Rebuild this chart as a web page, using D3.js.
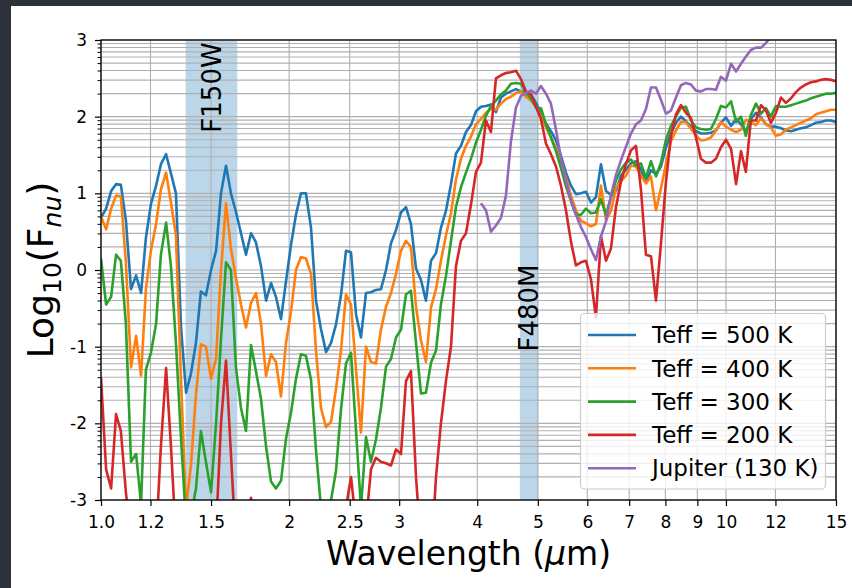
<!DOCTYPE html>
<html>
<head>
<meta charset="utf-8">
<script src="https://cdn.jsdelivr.net/npm/d3@7"></script>
<style>
  html, body { margin: 0; padding: 0; background: #2c313c; }
  svg { display: block; }
</style>
</head>
<body>
<div id="chart"></div>
<script>
// wavelength grid (micron), shared by all spectra
const wavelength = [
  1.000, 1.019, 1.038, 1.057, 1.076, 1.096, 1.117, 1.138, 1.159, 1.180,
  1.202, 1.225, 1.247, 1.271, 1.294, 1.318, 1.343, 1.368, 1.393, 1.419,
  1.445, 1.472, 1.500, 1.528, 1.556, 1.585, 1.614, 1.644, 1.675, 1.706,
  1.738, 1.770, 1.803, 1.837, 1.871, 1.905, 1.941, 1.977, 2.014, 2.051,
  2.089, 2.128, 2.168, 2.208, 2.249, 2.291, 2.334, 2.377, 2.421, 2.466,
  2.512, 2.559, 2.606, 2.655, 2.704, 2.754, 2.805, 2.858, 2.911, 2.965,
  3.020, 3.076, 3.133, 3.192, 3.251, 3.311, 3.373, 3.436, 3.499, 3.564,
  3.631, 3.698, 3.767, 3.837, 3.908, 3.981, 4.055, 4.130, 4.207, 4.285,
  4.365, 4.446, 4.529, 4.613, 4.699, 4.786, 4.875, 4.966, 5.058, 5.152,
  5.248, 5.346, 5.445, 5.546, 5.649, 5.754, 5.861, 5.970, 6.081, 6.194,
  6.310, 6.427, 6.546, 6.668, 6.792, 6.918, 7.047, 7.178, 7.311, 7.447,
  7.586, 7.727, 7.871, 8.017, 8.166, 8.318, 8.472, 8.630, 8.790, 8.954,
  9.120, 9.290, 9.462, 9.638, 9.817, 10.00, 10.19, 10.38, 10.57, 10.76,
  10.96, 11.17, 11.38, 11.59, 11.80, 12.02, 12.25, 12.47, 12.71, 12.94,
  13.18, 13.43, 13.68, 13.93, 14.19, 14.45, 14.72, 15.00
];

// log10(F_nu) for each model
const teff500 = [
  0.68, 0.80, 1.03, 1.12, 1.11, 0.65, -0.25, -0.07, -0.30, 0.42,
  0.86, 1.10, 1.38, 1.51, 1.26, 1.00, -0.75, -1.60, -1.35, -0.95,
  -0.28, -0.33, 0.00, 0.25, 1.00, 1.36, 1.00, 0.76, 0.48, 0.20,
  0.48, 0.36, 0.05, -0.40, -0.17, -0.35, -0.64, -0.15, 0.33, 0.72,
  1.00, 1.00, 0.55, -0.40, -0.77, -1.07, -0.95, -0.71, -0.33, 0.25,
  0.23, -0.58, -0.88, -0.30, -0.29, -0.26, -0.25, 0.00, 0.35, 0.52,
  0.75, 0.82, 0.60, 0.02, -0.13, -0.40, 0.12, 0.22, 0.55, 0.77,
  1.12, 1.52, 1.62, 1.80, 1.89, 2.07, 2.13, 2.14, 2.16, 2.06,
  2.25, 2.30, 2.33, 2.36, 2.33, 2.32, 2.29, 2.18, 2.04, 1.91,
  1.81, 1.69, 1.49, 1.27, 1.10, 0.99, 1.00, 1.02, 0.88, 0.95,
  1.38, 1.03, 0.98, 1.03, 1.23, 1.31, 1.39, 1.42, 1.31, 1.14,
  1.30, 1.25, 1.35, 1.60, 1.78, 1.92, 2.00, 1.94, 1.87, 1.81,
  1.78, 1.78, 1.79, 1.82, 1.92, 1.99, 1.88, 1.97, 1.90, 1.80,
  1.97, 2.05, 1.99, 1.90, 1.87, 1.87, 1.85, 1.82, 1.81, 1.83,
  1.85, 1.86, 1.89, 1.92, 1.93, 1.95, 1.95, 1.93
];
const teff400 = [
  0.70, 0.53, 0.80, 0.97, 0.96, 0.10, -1.27, -0.86, -1.38, -0.25,
  0.25, 0.60, 1.05, 1.27, 0.88, 0.45, -1.45, -3.10, -2.55, -1.62,
  -0.97, -1.00, -1.42, -1.15, 0.00, 0.87, 0.28, -0.10, -0.45, -0.75,
  -0.43, -0.30, -0.70, -1.38, -1.10, -1.20, -1.65, -0.95, -0.54, 0.00,
  0.17, 0.15, -0.05, -1.05, -1.80, -2.05, -1.98, -1.55, -1.05, -0.32,
  -0.45, -1.30, -2.12, -1.00, -1.20, -1.22, -0.78, -0.48, -0.30, -0.05,
  0.25, 0.38, 0.30, -0.48, -0.92, -1.20, -0.49, -0.25, 0.12, 0.45,
  0.74, 1.18, 1.45, 1.62, 1.74, 1.90, 1.97, 2.05, 2.10, 2.09,
  2.17, 2.23, 2.26, 2.31, 2.33, 2.26, 2.21, 2.13, 2.00, 1.86,
  1.73, 1.58, 1.41, 1.20, 0.97, 0.78, 0.64, 0.61, 0.57, 0.60,
  1.10, 0.65, 0.77, 1.07, 1.16, 1.23, 1.36, 1.35, 1.23, 1.13,
  1.22, 0.78, 1.07, 1.38, 1.68, 1.82, 1.93, 1.93, 1.84, 1.76,
  1.69, 1.70, 1.73, 1.82, 1.93, 1.87, 1.83, 1.80, 1.83, 1.96,
  1.93, 1.89, 1.98, 1.90, 1.86, 1.75, 1.77, 1.83, 1.86, 1.89,
  1.92, 1.95, 1.98, 2.03, 2.05, 2.07, 2.09, 2.09
];
const teff300 = [
  0.15, -0.45, -0.35, 0.20, 0.12, -0.70, -2.50, -2.40, -3.05, -1.30,
  -1.08, -0.70, 0.20, 0.62, 0.05, -0.95, -2.20, -3.30, -3.20, -2.85,
  -2.10, -2.50, -2.90, -2.00, -0.90, 0.10, 0.00, -1.27, -1.80, -2.10,
  -0.98, -1.32, -1.68, -2.30, -2.76, -2.85, -2.75, -2.20, -1.86, -1.42,
  -1.10, -1.12, -1.43, -2.35, -3.10, -3.20, -3.00, -2.62, -1.82, -1.22,
  -1.08, -2.10, -3.10, -2.18, -2.50, -2.21, -1.80, -1.26, -1.16, -0.88,
  -0.78, -0.32, -0.27, -0.95, -1.61, -1.60, -1.21, -1.05, -0.45, -0.08,
  0.38, 0.82, 1.08, 1.27, 1.45, 1.66, 1.83, 2.01, 2.14, 2.21,
  2.29, 2.34, 2.43, 2.44, 2.43, 2.31, 2.24, 2.12, 2.11, 1.90,
  1.73, 1.55, 1.33, 1.09, 0.90, 0.72, 0.72, 0.80, 0.74, 0.75,
  0.92, 0.72, 0.95, 1.17, 1.31, 1.40, 1.44, 1.36, 1.39, 1.20,
  1.42, 1.22, 1.40, 1.70, 1.88, 2.00, 2.12, 2.13, 1.95, 1.86,
  1.84, 1.83, 1.84, 1.97, 2.14, 2.12, 2.20, 1.93, 2.00, 1.75,
  2.02, 2.17, 2.04, 2.11, 2.00, 2.14, 2.13, 2.13, 2.15, 2.17,
  2.19, 2.21, 2.24, 2.26, 2.28, 2.30, 2.30, 2.31
];
const teff200 = [
  -1.40, -2.60, -2.85, -1.88, -2.10, -2.90, -3.50, -4.00, -4.00, -4.00,
  -4.00, -3.50, -2.30, -1.28, -2.30, -3.50, -4.00, -4.00, -4.00, -4.00,
  -4.00, -4.00, -4.00, -3.40, -2.00, -1.18, -2.40, -3.60, -4.00, -3.50,
  -2.97, -3.50, -4.00, -4.00, -4.00, -4.00, -4.00, -4.00, -4.00, -4.00,
  -4.00, -4.00, -4.00, -4.00, -4.00, -4.00, -4.00, -4.00, -3.60, -3.10,
  -2.70, -3.30, -3.80, -3.30, -2.60, -2.45, -2.50, -2.52, -2.55, -2.34,
  -2.40, -1.45, -1.32, -2.70, -3.60, -4.00, -3.80, -2.70, -2.00, -1.45,
  -1.00, 0.05, 0.38, 0.48, 0.85, 1.28, 1.40, 1.95, 1.80, 2.50,
  2.54, 2.57, 2.58, 2.60, 2.49, 2.33, 2.29, 2.13, 1.97, 1.65,
  1.51, 1.35, 1.10, 0.78, 0.37, 0.06, 0.10, 0.12, -0.12, -0.62,
  0.44, 0.12, 0.28, 0.82, 1.15, 1.38, 1.56, 1.62, 1.05, 0.20,
  0.18, -0.40, 0.35, 1.15, 1.75, 2.03, 2.15, 2.05, 1.98, 1.73,
  1.45, 1.40, 1.40, 1.45, 1.60, 1.70, 1.58, 1.12, 1.55, 1.28,
  1.95, 1.95, 2.15, 2.08, 1.92, 2.05, 2.25, 2.18, 2.24, 2.32,
  2.38, 2.42, 2.45, 2.46, 2.48, 2.49, 2.48, 2.46
];
const jupiter = [
  null, null, null, null, null, null, null, null, null, null,
  null, null, null, null, null, null, null, null, null, null,
  null, null, null, null, null, null, null, null, null, null,
  null, null, null, null, null, null, null, null, null, null,
  null, null, null, null, null, null, null, null, null, null,
  null, null, null, null, null, null, null, null, null, null,
  null, null, null, null, null, null, null, null, null, null,
  null, null, null, null, null, null, 0.87, 0.78, 0.50, 0.58,
  0.68, 0.97, 1.68, 2.12, 2.27, 2.31, 2.34, 2.30, 2.40, 2.30,
  2.17, 1.83, 1.45, 1.16, 0.91, 0.72, 0.56, 0.43, 0.27, 0.13,
  0.44, 0.63, 0.97, 1.24, 1.43, 1.61, 1.78, 1.90, 1.95, 2.10,
  2.38, 2.38, 2.22, 2.04, 2.08, 2.25, 2.41, 2.44, 2.42, 2.34,
  2.33, 2.36, 2.36, 2.35, 2.52, 2.47, 2.69, 2.59, 2.69, 2.78,
  2.87, 2.90, 2.90, 2.96, 3.05, 3.12, 3.20, null, null, null,
  null, null, null, null, null, null, null, null
];

const seriesNames = ["Teff = 500 K", "Teff = 400 K", "Teff = 300 K", "Teff = 200 K", "Jupiter (130 K)"];
const seriesColors = ["#1f77b4", "#ff7f0e", "#2ca02c", "#d62728", "#9467bd"];
const seriesValues = [teff500, teff400, teff300, teff200, jupiter];

// filter bandpasses
const filterNames = ["F150W", "F480M"];
const filterLo = [1.366, 4.68];
const filterHi = [1.652, 5.01];
const filterLabelY = [87.5, 308];

// ticks
const xTicks = [1, 1.2, 1.5, 2, 2.5, 3, 4, 5, 6, 7, 8, 9, 10, 12, 15];
const xTickLabels = ["1.0", "1.2", "1.5", "2", "2.5", "3", "4", "5", "6", "7", "8", "9", "10", "12", "15"];
const yTicks = [-3, -2, -1, 0, 1, 2, 3];

const width = 852, height = 588;
const margin = { top: 40, right: 16, bottom: 88, left: 101 };
const font = "DejaVu Sans, sans-serif";

const svg = d3.select("#chart").append("svg")
  .attr("width", width)
  .attr("height", height)
  .attr("viewBox", [0, 0, width, height]);

// dark frame + white figure
svg.append("rect").attr("width", width).attr("height", height).attr("fill", "#2c313c");
svg.append("rect").attr("x", 11).attr("y", 6).attr("width", width - 11).attr("height", height - 6).attr("fill", "#ffffff");

const xS = d3.scaleLog().domain([1, 15]).range([margin.left, width - margin.right]);
const yS = d3.scaleLinear().domain([-3, 3]).range([height - margin.bottom, margin.top]);

// minor positions inside each unit: n + log10(k)
const yMinor = [];
for (let n = -3; n < 3; n++) for (let k = 2; k <= 9; k++) yMinor.push(n + Math.log10(k));

svg.append("defs").append("clipPath").attr("id", "plot")
  .append("rect")
  .attr("x", margin.left).attr("y", margin.top)
  .attr("width", xS.range()[1] - margin.left)
  .attr("height", yS.range()[0] - margin.top);

// filter bands
svg.append("g")
  .selectAll("rect")
  .data(filterNames)
  .join("rect")
  .attr("x", (d, i) => xS(filterLo[i]))
  .attr("width", (d, i) => xS(filterHi[i]) - xS(filterLo[i]))
  .attr("y", margin.top)
  .attr("height", yS(-3) - yS(3))
  .attr("fill", "#1f77b4")
  .attr("fill-opacity", 0.3);

// grid
const grid = svg.append("g").attr("stroke", "#b0b0b0").attr("stroke-width", 1.1);
grid.selectAll(".gy")
  .data(yTicks.concat(yMinor))
  .join("line")
  .attr("x1", margin.left).attr("x2", xS.range()[1])
  .attr("y1", d => yS(d)).attr("y2", d => yS(d));
grid.selectAll(".gx")
  .data(xTicks)
  .join("line")
  .attr("y1", margin.top).attr("y2", yS(-3))
  .attr("x1", d => xS(d)).attr("x2", d => xS(d));

// filter labels
svg.append("g")
  .selectAll("text")
  .data(filterNames)
  .join("text")
  .attr("transform", (d, i) => `translate(${(xS(filterLo[i]) + xS(filterHi[i])) / 2},${filterLabelY[i]}) rotate(-90)`)
  .attr("text-anchor", "middle")
  .attr("dy", "0.36em")
  .attr("font-family", font)
  .attr("font-size", 26)
  .attr("fill", "#000")
  .text(d => d);

// spectra
const line = d3.line()
  .defined(d => d[1] != null)
  .x(d => xS(d[0]))
  .y(d => yS(d[1]));

svg.append("g")
  .attr("clip-path", "url(#plot)")
  .attr("fill", "none")
  .attr("stroke-width", 2.6)
  .attr("stroke-linejoin", "round")
  .selectAll("path")
  .data(seriesValues)
  .join("path")
  .attr("stroke", (d, i) => seriesColors[i])
  .attr("d", vals => line(wavelength.map((w, j) => [w, vals[j]])));

// axes
svg.append("g")
  .attr("transform", `translate(0,${yS(-3)})`)
  .call(d3.axisBottom(xS).tickValues(xTicks).tickFormat((d, i) => xTickLabels[i])
    .tickSize(6).tickSizeOuter(0).tickPadding(10))
  .call(g => g.select(".domain").remove())
  .call(g => g.selectAll("text").attr("font-family", font).attr("font-size", 17).attr("fill", "#000"))
  .call(g => g.selectAll("line").attr("stroke", "#000").attr("stroke-width", 1.2));

svg.append("g")
  .attr("transform", `translate(${margin.left},0)`)
  .call(d3.axisLeft(yS).tickValues(yMinor).tickFormat("").tickSize(3.5).tickSizeOuter(0))
  .call(g => g.select(".domain").remove())
  .call(g => g.selectAll("line").attr("stroke", "#000").attr("stroke-width", 1));

svg.append("g")
  .attr("transform", `translate(${margin.left},0)`)
  .call(d3.axisLeft(yS).tickValues(yTicks).tickFormat(d => d < 0 ? "-" + (-d) : d)
    .tickSize(6).tickSizeOuter(0).tickPadding(8))
  .call(g => g.select(".domain").remove())
  .call(g => g.selectAll("text").attr("font-family", font).attr("font-size", 17).attr("fill", "#000"))
  .call(g => g.selectAll("line").attr("stroke", "#000").attr("stroke-width", 1.2));

// frame
svg.append("rect")
  .attr("x", margin.left).attr("y", margin.top)
  .attr("width", xS.range()[1] - margin.left)
  .attr("height", yS(-3) - margin.top)
  .attr("fill", "none").attr("stroke", "#000").attr("stroke-width", 1.3);

// axis labels
const xl = svg.append("text")
  .attr("x", (margin.left + xS.range()[1]) / 2)
  .attr("y", 565)
  .attr("text-anchor", "middle")
  .attr("font-family", font)
  .attr("font-size", 33)
  .attr("fill", "#000");
xl.append("tspan").text("Wavelength (");
xl.append("tspan").attr("font-style", "italic").text("\u03bc");
xl.append("tspan").text("m)");

const yl = svg.append("text")
  .attr("transform", `translate(53,${(margin.top + yS(-3)) / 2}) rotate(-90)`)
  .attr("text-anchor", "middle")
  .attr("font-family", font)
  .attr("font-size", 36)
  .attr("fill", "#000");
yl.append("tspan").text("Log");
yl.append("tspan").attr("font-size", 25).attr("dy", 8).text("10");
yl.append("tspan").attr("dy", -8).text("(F");
yl.append("tspan").attr("font-size", 25).attr("font-style", "italic").attr("dy", 8).text("nu");
yl.append("tspan").attr("dy", -8).text(")");

// legend
const legend = svg.append("g").attr("font-family", font).attr("font-size", 23);
legend.append("rect")
  .attr("x", 580.5).attr("y", 313.5)
  .attr("width", 245).attr("height", 175.5)
  .attr("rx", 4)
  .attr("fill", "#fff").attr("fill-opacity", 0.8)
  .attr("stroke", "#cccccc").attr("stroke-width", 1.2);
const rows = legend.selectAll(".row")
  .data(seriesNames)
  .join("g")
  .attr("transform", (d, i) => `translate(0,${335 + i * 33.3})`);
rows.append("line")
  .attr("x1", 588).attr("x2", 636)
  .attr("stroke", (d, i) => seriesColors[i])
  .attr("stroke-width", 2.6);
rows.append("text")
  .attr("x", 652)
  .attr("dy", "0.36em")
  .attr("fill", "#000")
  .text(d => d);
</script>
</body>
</html>
